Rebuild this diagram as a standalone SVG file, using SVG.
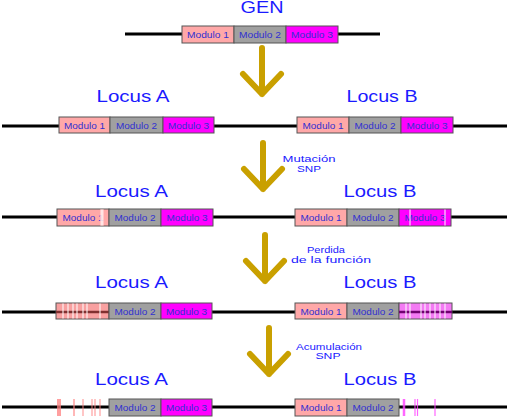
<svg xmlns="http://www.w3.org/2000/svg" width="510" height="417" viewBox="0 0 510 417">
<style>
.t{font-family:"Liberation Sans",Arial,sans-serif;fill:#1a1aff;text-anchor:middle}
.loc{font-size:16px}
.m{font-family:"Liberation Sans",Arial,sans-serif;font-size:9.5px;fill:#3030d0;text-anchor:middle}
.lab{font-family:"Liberation Sans",Arial,sans-serif;font-size:9.5px;fill:#1a1aff;text-anchor:middle}
.chr{stroke:#000;stroke-width:3;fill:none}
.b{stroke:#555;stroke-width:1}
.m1{fill:#ffa8a8}
.m2{fill:#a0a0a0}
.m3{fill:#ff00ff}
.arr{stroke:#c9a000;stroke-width:6;fill:none;stroke-linecap:round;stroke-linejoin:round}
.w{stroke:#fff;stroke-width:1.2;opacity:0.85}
</style>

<g id="connectors">
<path class="arr" d="M262,48 V94 M243,74 L262,94 L281,74"/>
<path class="arr" d="M263,143 V189 M244,169 L263,189 L282,169"/>
<path class="arr" d="M265,235 V281 M246,261 L265,281 L284,261"/>
<path class="arr" d="M269,328 V374 M250,354 L269,374 L288,354"/>
<text class="lab" x="309" y="162" textLength="53" lengthAdjust="spacingAndGlyphs">Mutación</text>
<text class="lab" x="309" y="172" textLength="24" lengthAdjust="spacingAndGlyphs">SNP</text>
<text class="lab" x="326" y="253" textLength="38" lengthAdjust="spacingAndGlyphs">Perdida</text>
<text class="lab" x="331" y="262.5" textLength="80" lengthAdjust="spacingAndGlyphs">de la función</text>
<text class="lab" x="329" y="350" textLength="66" lengthAdjust="spacingAndGlyphs">Acumulación</text>
<text class="lab" x="328" y="359" textLength="25" lengthAdjust="spacingAndGlyphs">SNP</text>
</g>

<g id="gen">
<text class="t" x="262" y="12.5" font-size="17" textLength="43" lengthAdjust="spacingAndGlyphs">GEN</text>
<line class="chr" x1="125" y1="34" x2="380" y2="34"/>
<rect class="b m1" x="182" y="26" width="52" height="17"/>
<rect class="b m2" x="234" y="26" width="52" height="17"/>
<rect class="b m3" x="286" y="26" width="52" height="17"/>
<text class="m" x="208" y="37.5" textLength="42" lengthAdjust="spacingAndGlyphs">Modulo 1</text>
<text class="m" x="260" y="37.5" textLength="42" lengthAdjust="spacingAndGlyphs">Modulo 2</text>
<text class="m" x="312" y="37.5" textLength="42" lengthAdjust="spacingAndGlyphs">Modulo 3</text>
</g>

<g id="row2">
<text class="t loc" x="133" y="102" textLength="73" lengthAdjust="spacingAndGlyphs">Locus A</text>
<text class="t loc" x="382" y="102" textLength="71" lengthAdjust="spacingAndGlyphs">Locus B</text>
<line class="chr" x1="2" y1="126" x2="507" y2="126"/>
<rect class="b m1" x="59" y="117" width="51" height="16"/>
<rect class="b m2" x="110" y="117" width="53" height="16"/>
<rect class="b m3" x="163" y="117" width="51" height="16"/>
<text class="m" x="84.5" y="128.5" textLength="41" lengthAdjust="spacingAndGlyphs">Modulo 1</text>
<text class="m" x="136.5" y="128.5" textLength="41" lengthAdjust="spacingAndGlyphs">Modulo 2</text>
<text class="m" x="188.5" y="128.5" textLength="41" lengthAdjust="spacingAndGlyphs">Modulo 3</text>
<rect class="b m1" x="297" y="117" width="52" height="16"/>
<rect class="b m2" x="349" y="117" width="52" height="16"/>
<rect class="b m3" x="401" y="117" width="52" height="16"/>
<text class="m" x="323" y="128.5" textLength="41" lengthAdjust="spacingAndGlyphs">Modulo 1</text>
<text class="m" x="375" y="128.5" textLength="41" lengthAdjust="spacingAndGlyphs">Modulo 2</text>
<text class="m" x="427" y="128.5" textLength="41" lengthAdjust="spacingAndGlyphs">Modulo 3</text>
</g>

<g id="row3">
<text class="t loc" x="131.5" y="197" textLength="73" lengthAdjust="spacingAndGlyphs">Locus A</text>
<text class="t loc" x="380" y="197" textLength="73" lengthAdjust="spacingAndGlyphs">Locus B</text>
<line class="chr" x1="2" y1="217" x2="507" y2="217"/>
<rect class="b m1" x="57" y="209" width="52" height="17"/>
<rect class="b m2" x="109" y="209" width="52" height="17"/>
<rect class="b m3" x="161" y="209" width="52" height="17"/>
<text class="m" x="83" y="220.5" textLength="41" lengthAdjust="spacingAndGlyphs">Modulo 1</text>
<rect x="100" y="209.5" width="4" height="16" fill="#ffd0d0" opacity="0.8"/>
<line class="w" x1="102" y1="209.5" x2="102" y2="225.5"/>
<text class="m" x="135" y="220.5" textLength="41" lengthAdjust="spacingAndGlyphs">Modulo 2</text>
<text class="m" x="187" y="220.5" textLength="41" lengthAdjust="spacingAndGlyphs">Modulo 3</text>
<rect class="b m1" x="295" y="209" width="52" height="17"/>
<rect class="b m2" x="347" y="209" width="52" height="17"/>
<rect class="b m3" x="399" y="209" width="52" height="17"/>
<text class="m" x="321" y="220.5" textLength="41" lengthAdjust="spacingAndGlyphs">Modulo 1</text>
<text class="m" x="373" y="220.5" textLength="41" lengthAdjust="spacingAndGlyphs">Modulo 2</text>
<text class="m" x="425" y="220.5" textLength="41" lengthAdjust="spacingAndGlyphs">Modulo 3</text>
<line class="w" x1="410" y1="209.5" x2="410" y2="225.5"/>
<line class="w" x1="445" y1="209.5" x2="445" y2="225.5"/>
</g>

<g id="row4">
<text class="t loc" x="131.5" y="288" textLength="73" lengthAdjust="spacingAndGlyphs">Locus A</text>
<text class="t loc" x="380" y="288" textLength="73" lengthAdjust="spacingAndGlyphs">Locus B</text>
<line class="chr" x1="2" y1="312" x2="507" y2="312"/>
<rect class="b" x="56" y="303" width="53" height="16" fill="#f8a0a0"/>
<line x1="56" y1="312" x2="109" y2="312" stroke="#803030" stroke-width="2.5"/>
<g class="w">
<line x1="63" y1="303.5" x2="63" y2="318.5"/>
<line x1="68" y1="303.5" x2="68" y2="318.5"/>
<line x1="73" y1="303.5" x2="73" y2="318.5"/>
<line x1="77" y1="303.5" x2="77" y2="318.5"/>
<line x1="83" y1="303.5" x2="83" y2="318.5"/>
<line x1="87" y1="303.5" x2="87" y2="318.5"/>
<line x1="100" y1="303.5" x2="100" y2="318.5"/>
</g>
<rect class="b m2" x="109" y="303" width="52" height="16"/>
<rect class="b m3" x="161" y="303" width="51" height="16"/>
<text class="m" x="135" y="314.5" textLength="41" lengthAdjust="spacingAndGlyphs">Modulo 2</text>
<text class="m" x="186.5" y="314.5" textLength="41" lengthAdjust="spacingAndGlyphs">Modulo 3</text>
<rect class="b m1" x="295" y="303" width="52" height="16"/>
<rect class="b m2" x="347" y="303" width="52" height="16"/>
<text class="m" x="321" y="314.5" textLength="41" lengthAdjust="spacingAndGlyphs">Modulo 1</text>
<text class="m" x="373" y="314.5" textLength="41" lengthAdjust="spacingAndGlyphs">Modulo 2</text>
<rect class="b" x="399" y="303" width="53" height="16" fill="#f37af3"/>
<line x1="399" y1="312" x2="452" y2="312" stroke="#700070" stroke-width="2.5"/>
<g class="w">
<line x1="406" y1="303.5" x2="406" y2="318.5"/>
<line x1="410" y1="303.5" x2="410" y2="318.5"/>
<line x1="421" y1="303.5" x2="421" y2="318.5"/>
<line x1="425" y1="303.5" x2="425" y2="318.5"/>
<line x1="430" y1="303.5" x2="430" y2="318.5"/>
<line x1="435" y1="303.5" x2="435" y2="318.5"/>
<line x1="440" y1="303.5" x2="440" y2="318.5"/>
<line x1="445" y1="303.5" x2="445" y2="318.5"/>
</g>
</g>

<g id="row5">
<text class="t loc" x="131.5" y="385" textLength="73" lengthAdjust="spacingAndGlyphs">Locus A</text>
<text class="t loc" x="380" y="385" textLength="73" lengthAdjust="spacingAndGlyphs">Locus B</text>
<line class="chr" x1="2" y1="407" x2="507" y2="407"/>
<g stroke="#ff8080" opacity="0.75">
<line x1="59" y1="399" x2="59" y2="416" stroke-width="4"/>
<line x1="74" y1="399" x2="74" y2="416" stroke-width="1.5"/>
<line x1="83" y1="399" x2="83" y2="416" stroke-width="1.2"/>
<line x1="92" y1="399" x2="92" y2="416" stroke-width="1.2"/>
<line x1="95" y1="399" x2="95" y2="416" stroke-width="1.2"/>
<line x1="100" y1="399" x2="100" y2="416" stroke-width="1.2"/>
</g>
<rect class="b m2" x="109" y="399" width="52" height="17"/>
<rect class="b m3" x="161" y="399" width="51" height="17"/>
<text class="m" x="135" y="410.5" textLength="41" lengthAdjust="spacingAndGlyphs">Modulo 2</text>
<text class="m" x="186.5" y="410.5" textLength="41" lengthAdjust="spacingAndGlyphs">Modulo 3</text>
<rect class="b m1" x="295" y="399" width="52" height="17"/>
<rect class="b m2" x="347" y="399" width="52" height="17"/>
<text class="m" x="321" y="410.5" textLength="41" lengthAdjust="spacingAndGlyphs">Modulo 1</text>
<text class="m" x="373" y="410.5" textLength="41" lengthAdjust="spacingAndGlyphs">Modulo 2</text>
<g stroke="#ff40ff" opacity="0.8">
<line x1="404" y1="399" x2="404" y2="416" stroke-width="2.5"/>
<line x1="415" y1="399" x2="415" y2="416" stroke-width="1.2"/>
<line x1="417.5" y1="399" x2="417.5" y2="416" stroke-width="1.2"/>
<line x1="435" y1="399" x2="435" y2="416" stroke-width="1.2"/>
</g>
</g>
</svg>
